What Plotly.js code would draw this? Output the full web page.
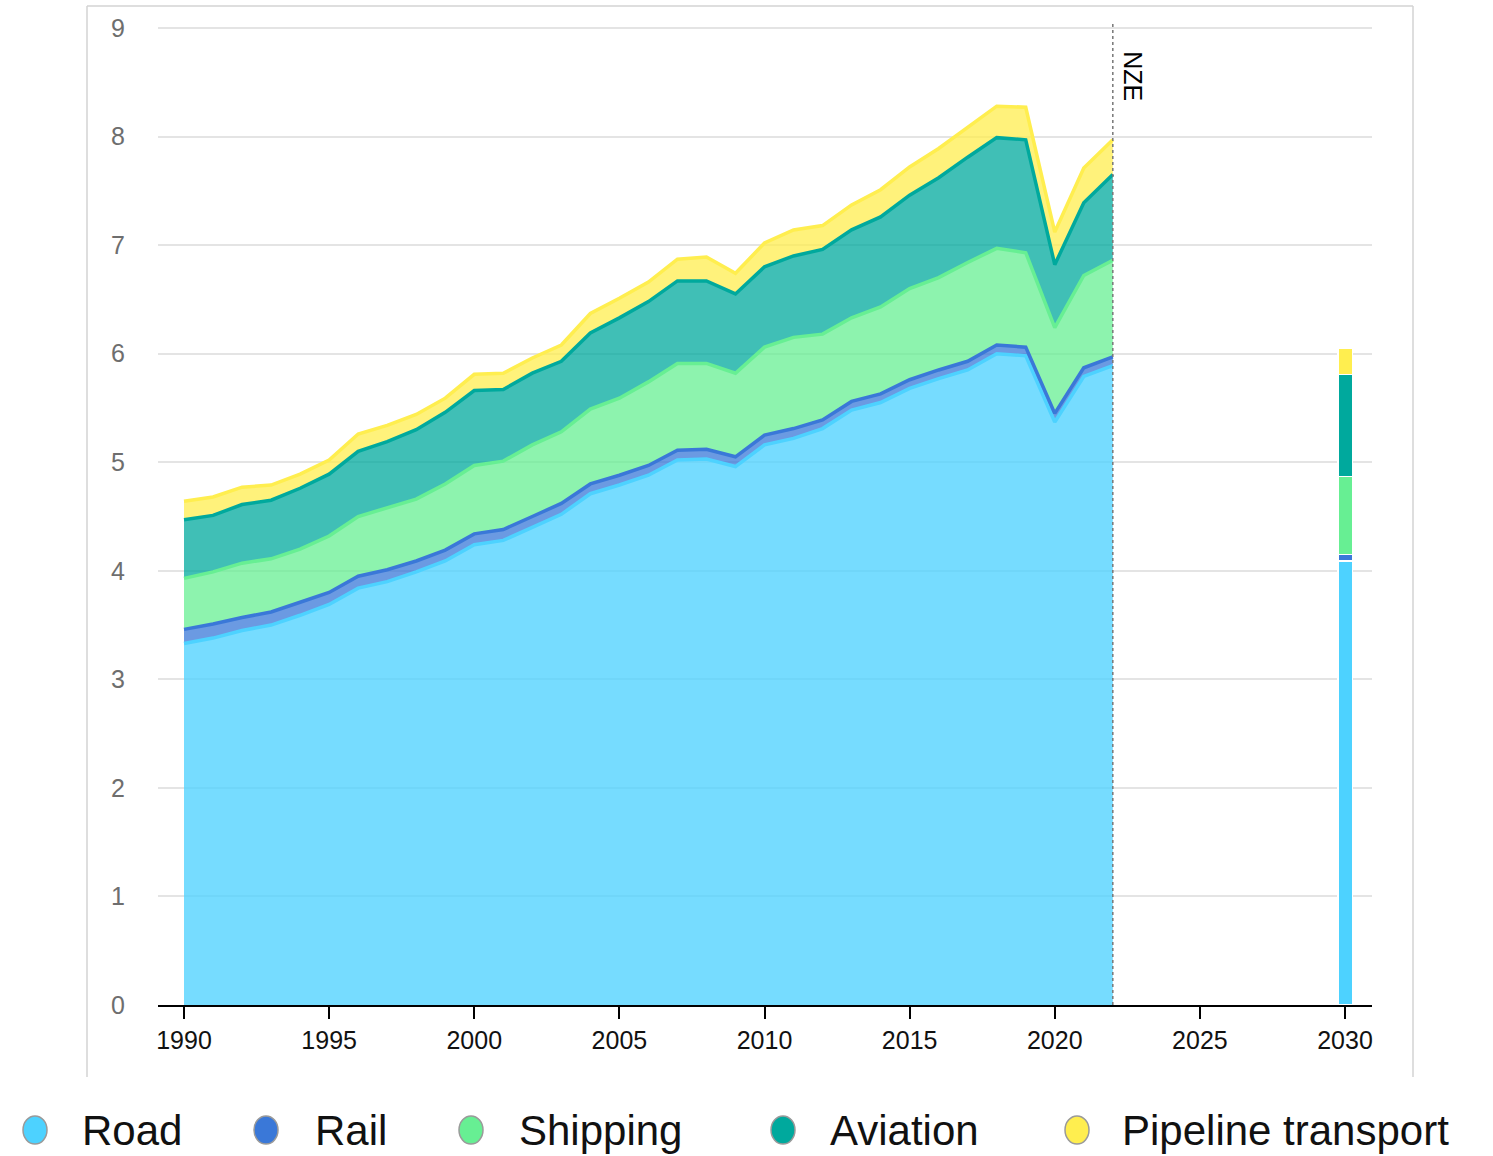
<!DOCTYPE html>
<html>
<head>
<meta charset="utf-8">
<script src="https://cdn.plot.ly/plotly-3.0.1.min.js"></script>
<style>html,body{margin:0;padding:0;background:#fff;}#chart{width:1493px;height:1156px;}</style>
</head>
<body>
<div id="chart"></div>
<script>
// ---- Data (Gt CO2) ----
const years = [1990,1991,1992,1993,1994,1995,1996,1997,1998,1999,2000,2001,2002,2003,2004,2005,2006,2007,2008,2009,2010,2011,2012,2013,2014,2015,2016,2017,2018,2019,2020,2021,2022];
const road = [3.33,3.38,3.45,3.50,3.59,3.69,3.84,3.90,3.99,4.09,4.24,4.28,4.40,4.52,4.71,4.79,4.88,5.02,5.03,4.96,5.16,5.22,5.31,5.48,5.55,5.68,5.77,5.85,6.00,5.98,5.37,5.79,5.89];
const rail = [0.13,0.13,0.12,0.12,0.12,0.11,0.11,0.11,0.10,0.10,0.10,0.10,0.10,0.10,0.09,0.09,0.09,0.09,0.09,0.09,0.09,0.09,0.08,0.08,0.08,0.08,0.08,0.08,0.08,0.08,0.08,0.08,0.08];
const shipping = [0.47,0.48,0.50,0.49,0.49,0.52,0.55,0.57,0.57,0.61,0.63,0.63,0.66,0.66,0.69,0.71,0.77,0.80,0.79,0.77,0.81,0.84,0.79,0.77,0.80,0.84,0.85,0.91,0.89,0.87,0.79,0.85,0.89];
const aviation = [0.54,0.52,0.54,0.54,0.56,0.57,0.60,0.61,0.64,0.66,0.69,0.66,0.66,0.65,0.70,0.74,0.74,0.76,0.76,0.73,0.74,0.75,0.78,0.81,0.83,0.86,0.92,0.97,1.02,1.04,0.58,0.67,0.79];
const pipeline = [0.17,0.17,0.16,0.14,0.13,0.13,0.16,0.15,0.14,0.13,0.15,0.15,0.14,0.15,0.18,0.18,0.18,0.20,0.22,0.19,0.22,0.24,0.22,0.23,0.25,0.26,0.27,0.28,0.29,0.30,0.30,0.32,0.32];

// NZE 2030 scenario
const nzeYear = [2030];
const nzeRoad = [4.09];
const nzeRail = [0.06];
const nzeShipping = [0.72];
const nzeAviation = [0.94];
const nzePipeline = [0.24];

const seriesNames = ['Road','Rail','Shipping','Aviation','Pipeline transport'];
const xTicks = [1990,1995,2000,2005,2010,2015,2020,2025,2030];
const yTicks = [0,1,2,3,4,5,6,7,8,9];

// ---- Styles ----
const lineColors = ['#4DD2FF','#3A78D8','#67EF93','#00A99D','#FFEE4F'];
const fillColors = ['rgba(77,210,255,0.77)','rgba(58,120,216,0.75)','rgba(103,239,147,0.75)','rgba(0,169,157,0.75)','rgba(255,238,79,0.75)'];
const barColors = ['#4DD2FF','#3A78D8','#67EF93','#00A99D','#FFEE4F'];

const histData = [road, rail, shipping, aviation, pipeline];
const nzeData = [nzeRoad, nzeRail, nzeShipping, nzeAviation, nzePipeline];

const traces = [];
histData.forEach((vals, i) => {
  traces.push({
    type: 'scatter', mode: 'lines', x: years, y: vals, name: seriesNames[i],
    stackgroup: 'hist', fill: 'tonexty', fillcolor: fillColors[i],
    line: {color: lineColors[i], width: 3.5}, showlegend: false, hoverinfo: 'skip'
  });
});
nzeData.forEach((vals, i) => {
  traces.push({
    type: 'bar', x: nzeYear, y: vals, name: seriesNames[i], width: 0.5,
    marker: {color: barColors[i], line: {color: '#ffffff', width: 1.5}},
    showlegend: false, hoverinfo: 'skip'
  });
});

// ---- Layout geometry (pixel helpers) ----
const W = 1493, H = 1156;
const mL = 158, mR = 121, mT = 23, mB = 151;
const pw = W - mL - mR, ph = H - mT - mB;
const px = p => (p - mL) / pw;
const py = p => (H - mB - p) / ph;

const shapes = [
  // container frame (left, top, right)
  {type:'line', xref:'paper', yref:'paper', x0:px(87), x1:px(87), y0:py(6), y1:py(1077), line:{color:'#d3d3d3', width:1.5}},
  {type:'line', xref:'paper', yref:'paper', x0:px(87), x1:px(1413), y0:py(6), y1:py(6), line:{color:'#d3d3d3', width:1.5}},
  {type:'line', xref:'paper', yref:'paper', x0:px(1413), x1:px(1413), y0:py(6), y1:py(1077), line:{color:'#d3d3d3', width:1.5}},
  // NZE divider
  {type:'line', xref:'x', yref:'paper', x0:2022, x1:2022, y0:0, y1:1, line:{color:'#777', width:1.5, dash:'dot'}}
];

const annotations = [
  {x:2022, xref:'x', y:py(76), yref:'paper', xanchor:'center', yanchor:'middle', text:'NZE', textangle:90, showarrow:false,
   xshift:20, font:{family:'Liberation Sans, Arial, sans-serif', size:25, color:'#000'}}
];

// custom legend
const legendMarkerX = [35, 266, 471, 783, 1077];
const legendTextX = [80, 313, 517, 828, 1120];
const legendY = 1130;
seriesNames.forEach((n, i) => {
  shapes.push({type:'circle', xref:'paper', yref:'paper',
    x0:px(legendMarkerX[i]-12), x1:px(legendMarkerX[i]+12),
    y0:py(legendY+14), y1:py(legendY-14),
    fillcolor: barColors[i], line:{color:'#9a9a9a', width:1.5}});
  annotations.push({xref:'paper', yref:'paper', x:px(legendTextX[i]), y:py(legendY), xanchor:'left', yanchor:'middle',
    text:n, showarrow:false, font:{family:'Liberation Sans, Arial, sans-serif', size:42, color:'#111'}});
});

const layout = {
  width: W, height: H,
  margin: {l: mL, r: mR, t: mT, b: mB, pad: 0},
  paper_bgcolor: '#fff', plot_bgcolor: '#fff',
  showlegend: false, barmode: 'stack', hovermode: false,
  font: {family: 'Liberation Sans, Arial, sans-serif'},
  xaxis: {
    range: [1989.104, 2030.93], tickvals: xTicks, ticktext: xTicks.map(String),
    showgrid: false, zeroline: false, showline: true, linecolor: '#000', linewidth: 2,
    ticks: 'outside', ticklen: 12, tickwidth: 2, tickcolor: '#000',
    tickfont: {size: 25, color: '#111'}
  },
  yaxis: {
    range: [0, 9.046], tickvals: yTicks, ticktext: yTicks.map(String),
    showgrid: true, gridcolor: '#e4e4e4', gridwidth: 2, zeroline: false, showline: false,
    ticks: '', ticklabelstandoff: 32, tickfont: {size: 25, color: '#6e6e6e'}
  },
  shapes: shapes,
  annotations: annotations
};

Plotly.newPlot('chart', traces, layout, {displayModeBar: false, staticPlot: true});
</script>
</body>
</html>
